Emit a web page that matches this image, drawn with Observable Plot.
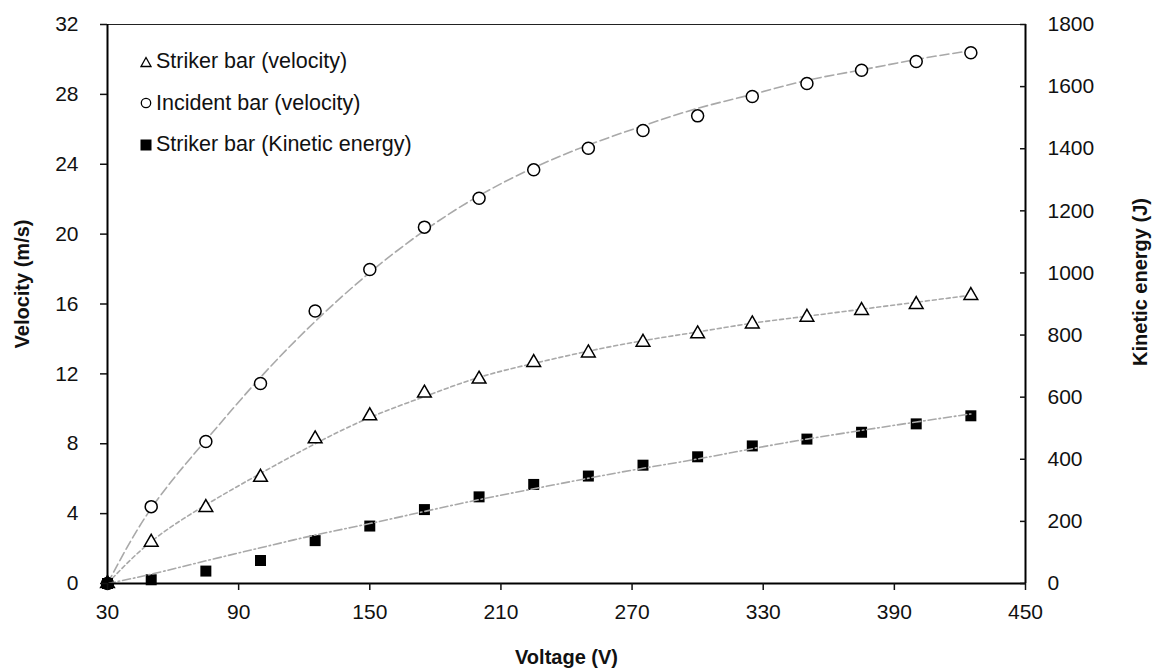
<!DOCTYPE html>
<html><head><meta charset="utf-8">
<script src="https://cdn.jsdelivr.net/npm/d3@7"></script>
<script src="https://cdn.jsdelivr.net/npm/@observablehq/plot@0.6"></script>
<style>
body{margin:0;background:#fff;font-family:"Liberation Sans",Arial,sans-serif;}
#wrap{position:relative;width:1158px;height:671px;}
#legend{position:absolute;left:140px;top:41px;font-size:21.5px;color:#111;}
.row{display:flex;align-items:center;height:41.5px;white-space:nowrap;}
.row svg{margin-right:4px;}
</style></head><body><div id="wrap"><div id="legend"></div></div>
<script>
const voltage = [30,50,75,100,125,150,175,200,225,250,275,300,325,350,375,400,425];
const incidentVelocity = [0,4.4,8.13,11.45,15.6,17.97,20.4,22.05,23.68,24.92,25.93,26.77,27.88,28.62,29.38,29.88,30.38];
const strikerVelocity = [0,2.36,4.35,6.08,8.28,9.6,10.9,11.7,12.65,13.2,13.81,14.29,14.86,15.24,15.63,15.97,16.49];
const strikerEnergy = [0,12,40,74,138,185,238,279,319,346,381,408,443,465,487,514,540];
const incidentFit = [0,4.3,8.2,11.8,15.0,17.8,20.2,22.2,23.8,25.1,26.2,27.2,28.0,28.8,29.4,30.0,30.5];
const strikerFit = [0,2.4,4.5,6.3,8.0,9.5,10.7,11.8,12.6,13.3,13.9,14.4,14.9,15.3,15.7,16.1,16.5];
const energyFit = [0,30,73,115,156,193,232,270,305,339,371,401,434,465,493,520,546];
const xTicks = [30,90,150,210,270,330,390,450];
const velocityTicks = [0,4,8,12,16,20,24,28,32];
const energyTicks = [0,200,400,600,800,1000,1200,1400,1600,1800];
const legendLabels = ["Striker bar (velocity)","Incident bar (velocity)","Striker bar (Kinetic energy)"];
const xDomain = [30,450];
const vDomain = [0,32];
const eDomain = [0,1800];
const toV = e => e * vDomain[1] / eDomain[1];

const rows = voltage.map((x,i)=>({
  x, inc: incidentVelocity[i], str: strikerVelocity[i], ke: toV(strikerEnergy[i]),
  incFit: incidentFit[i], strFit: strikerFit[i], keFit: toV(energyFit[i])
}));

const lineGray = "#a9a9a9";
const chart = Plot.plot({
  width:1158, height:671,
  marginLeft:107, marginRight:133, marginTop:24, marginBottom:88,
  style:{fontFamily:"'Liberation Sans', Arial, sans-serif", fontSize:"21px", color:"#111", background:"#fff"},
  x:{domain:xDomain},
  y:{domain:vDomain},
  marks:[
    Plot.line(rows,{x:"x",y:"incFit",curve:"natural",stroke:lineGray,strokeWidth:1.6,strokeDasharray:"9,4"}),
    Plot.line(rows,{x:"x",y:"strFit",curve:"natural",stroke:lineGray,strokeWidth:1.6,strokeDasharray:"4,3"}),
    Plot.dot(rows,{x:"x",y:"inc",symbol:"circle",r:6,fill:"white",stroke:"black",strokeWidth:1.5}),
    Plot.dot(rows,{x:"x",y:"str",symbol:"triangle",r:5.1,fill:"white",stroke:"black",strokeWidth:1.5}),
    Plot.dot(rows,{x:"x",y:"ke",symbol:"square",r:6.2,fill:"black",stroke:"none"}),
    Plot.line(rows,{x:"x",y:"keFit",curve:"natural",stroke:lineGray,strokeWidth:1.6,strokeDasharray:"8,3,1.5,3"}),
    Plot.ruleY([vDomain[1]],{stroke:"#222",strokeWidth:1.2}),
    Plot.ruleY([vDomain[0]],{stroke:"#000",strokeWidth:2}),
    Plot.ruleX([xDomain[0]],{stroke:"#000",strokeWidth:2}),
    Plot.ruleX([xDomain[1]],{stroke:"#000",strokeWidth:2}),
    Plot.axisX(xTicks,{tickSize:7,tickPadding:14,strokeWidth:1.5,label:null}),
    Plot.axisY(velocityTicks,{anchor:"left",tickSize:7,tickPadding:22,strokeWidth:1.5,label:null}),
    Plot.axisY(energyTicks.map(toV),{anchor:"right",tickSize:-6,tickPadding:28,strokeWidth:1.5,label:null,
      tickFormat: v => String(Math.round(v*eDomain[1]/vDomain[1]))}),
    Plot.text(["Voltage (V)"],{frameAnchor:"bottom",textAnchor:"middle",dy:80,fontWeight:"bold",fontSize:20,fill:"#111"}),
    Plot.text(["Velocity (m/s)"],{frameAnchor:"left",textAnchor:"middle",rotate:-90,dx:-85,dy:-20,fontWeight:"bold",fontSize:20,fill:"#111"}),
    Plot.text(["Kinetic energy (J)"],{frameAnchor:"right",textAnchor:"middle",rotate:-90,dx:115,dy:-22,fontWeight:"bold",fontSize:20,fill:"#111"})
  ]
});
document.getElementById("wrap").prepend(chart);

const sym = [
  '<svg width="12" height="12"><path d="M6,1.5 L11,10.5 L1,10.5 Z" fill="white" stroke="black" stroke-width="1.3"/></svg>',
  '<svg width="12" height="12"><circle cx="6" cy="6" r="4.7" fill="white" stroke="black" stroke-width="1.3"/></svg>',
  '<svg width="12" height="12"><rect x="0.5" y="0.5" width="11" height="11" fill="black"/></svg>'
];
const leg = document.getElementById("legend");
legendLabels.forEach((t,i)=>{
  const r = document.createElement("div");
  r.className = "row";
  r.innerHTML = sym[i] + '<span>' + t + '</span>';
  leg.appendChild(r);
});
</script></body></html>
